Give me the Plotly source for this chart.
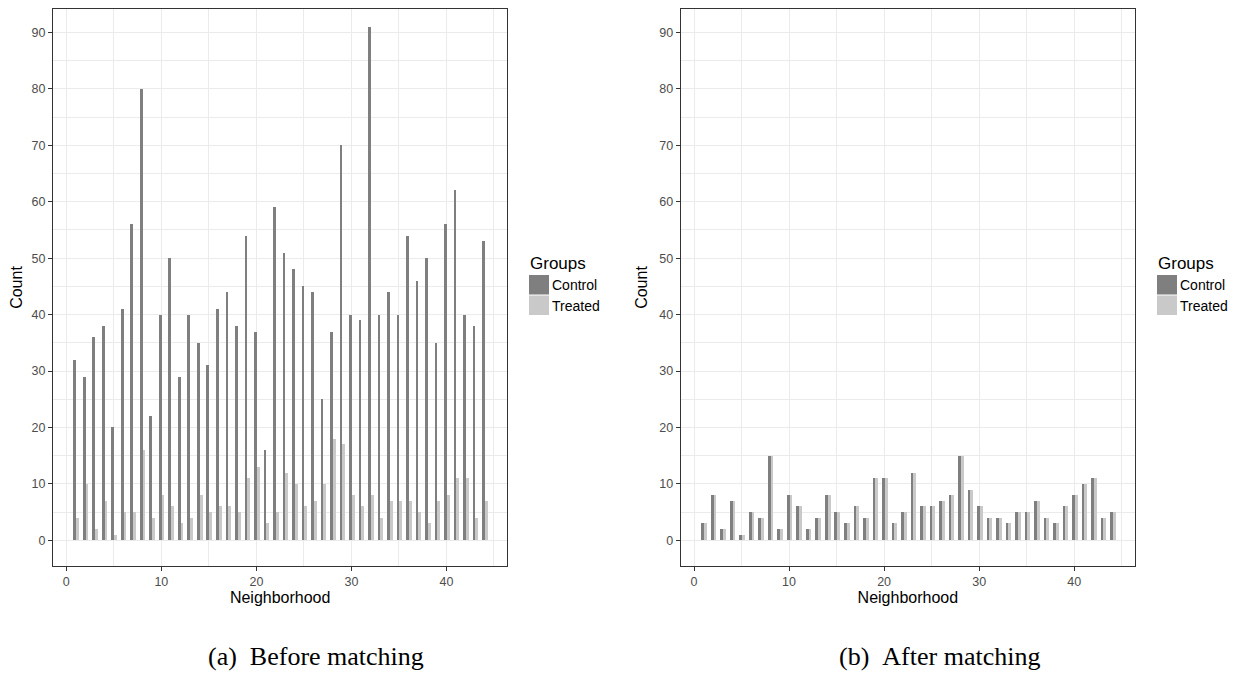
import plotly.graph_objects as go

neighborhood = list(range(1, 45))

before_control = [32, 29, 36, 38, 20, 41, 56, 80, 22, 40, 50, 29, 40, 35, 31, 41, 44, 38, 54, 37, 16, 59,
                  51, 48, 45, 44, 25, 37, 70, 40, 39, 91, 40, 44, 40, 54, 46, 50, 35, 56, 62, 40, 38, 53]
before_treated = [4, 10, 2, 7, 1, 5, 5, 16, 4, 8, 6, 3, 4, 8, 5, 6, 6, 5, 11, 13, 3, 5,
                  12, 10, 6, 7, 10, 18, 17, 8, 6, 8, 4, 7, 7, 7, 5, 3, 7, 8, 11, 11, 4, 7]
after_control = [3, 8, 2, 7, 1, 5, 4, 15, 2, 8, 6, 2, 4, 8, 5, 3, 6, 4, 11, 11, 3, 5,
                 12, 6, 6, 7, 8, 15, 9, 6, 4, 4, 3, 5, 5, 7, 4, 3, 6, 8, 10, 11, 4, 5]
after_treated = [3, 8, 2, 7, 1, 5, 4, 15, 2, 8, 6, 2, 4, 8, 5, 3, 6, 4, 11, 11, 3, 5,
                 12, 6, 6, 7, 8, 15, 9, 6, 4, 4, 3, 5, 5, 7, 4, 3, 6, 8, 10, 11, 4, 5]

y_ticks = [0, 10, 20, 30, 40, 50, 60, 70, 80, 90]
x_ticks = [0, 10, 20, 30, 40]
group_names = ["Control", "Treated"]
captions = ["(a)\u00a0\u00a0Before matching", "(b)\u00a0\u00a0After matching"]

W, H = 1236, 683
OX, OY = 8, 8  # page offset of the plot (body margin)
DARK = "#7f7f7f"
LIGHT = "#c9c9c9"
GRID = "#ebebeb"
BORDER = "#333333"
TICKTXT = "#4d4d4d"
FONT = "Liberation Sans, Arial, sans-serif"


def px_x(p):
    return min(max((p - OX) / W, 0.0), 1.0)


def px_y(p):
    return min(max((H - (p - OY)) / H, 0.0), 1.0)


fig = go.Figure()

panels = [
    ("x", "y", before_control, before_treated),
    ("x2", "y2", after_control, after_treated),
]
for xa, ya, ctrl, trt in panels:
    fig.add_trace(go.Bar(x=neighborhood, y=ctrl, xaxis=xa, yaxis=ya, name="Control",
                         marker=dict(color=DARK, line=dict(width=0)), offset=-0.25, width=0.3,
                         showlegend=False))
    fig.add_trace(go.Bar(x=neighborhood, y=trt, xaxis=xa, yaxis=ya, name="Treated",
                         marker=dict(color=LIGHT, line=dict(width=0)), offset=0.05, width=0.28,
                         showlegend=False))

# panel positions in page pixels
left_px = [(53, 507.3), (680.7, 1135)]
top_px, bot_px = 9, 566

ydom = [px_y(bot_px), px_y(top_px)]

axis_common = dict(
    showline=True, linecolor=BORDER, linewidth=1, mirror=True,
    ticks="outside", ticklen=4, tickcolor=BORDER, tickwidth=1,
    showgrid=True, gridcolor=GRID, gridwidth=1, zeroline=False,
    tickfont=dict(family=FONT, size=12.5, color=TICKTXT),
)

for i, (a, b) in enumerate(left_px):
    sx = "" if i == 0 else "2"
    fig.layout["xaxis" + sx] = dict(
        axis_common, domain=[px_x(a), px_x(b)], range=[-1.4, 46.4], anchor="y" + sx,
        tickvals=x_ticks, ticktext=[str(t) for t in x_ticks],
        minor=dict(dtick=5, tick0=5, showgrid=True, gridcolor=GRID, gridwidth=1, ticks=""),
        title=dict(text="Neighborhood", font=dict(family=FONT, size=16, color="black"), standoff=3),
    )
    fig.layout["yaxis" + sx] = dict(
        axis_common, domain=ydom, range=[-4.55, 94.15], anchor="x" + sx,
        tickvals=y_ticks, ticktext=[str(t) for t in y_ticks],
        minor=dict(dtick=5, tick0=5, showgrid=True, gridcolor=GRID, gridwidth=1, ticks=""),
        title=dict(text="Count", font=dict(family=FONT, size=16, color="black"), standoff=7),
    )

# legends (drawn as keys + labels)
legend_x = [529, 1157]
shapes = []
annotations = []
for lx in legend_x:
    annotations.append(dict(x=px_x(lx - 1), y=px_y(263), xref="paper", yref="paper",
                            text="Groups", showarrow=False, xanchor="left", yanchor="middle",
                            font=dict(family=FONT, size=17, color="black")))
    for j, (name, col) in enumerate(zip(group_names, [DARK, LIGHT])):
        y0 = 275 + j * 20.5
        shapes.append(dict(type="rect", xref="paper", yref="paper",
                           x0=px_x(lx), x1=px_x(lx + 20),
                           y0=px_y(y0 + 19.5), y1=px_y(y0),
                           fillcolor=col, line=dict(width=0)))
        annotations.append(dict(x=px_x(lx + 21), y=px_y(y0 + 10), xref="paper", yref="paper",
                                text=name, showarrow=False, xanchor="left", yanchor="middle",
                                font=dict(family=FONT, size=14, color="black")))

# captions
cap_centers = [316, 939]
for cx, cap in zip(cap_centers, captions):
    annotations.append(dict(x=px_x(cx), y=px_y(656), xref="paper", yref="paper",
                            text=cap, showarrow=False, xanchor="center", yanchor="middle",
                            font=dict(family="Liberation Serif, Times New Roman, serif", size=26,
                                      color="black")))

fig.update_layout(
    width=W, height=H,
    margin=dict(l=0, r=0, t=0, b=0),
    paper_bgcolor="white", plot_bgcolor="white",
    barmode="overlay", bargap=0,
    shapes=shapes, annotations=annotations,
    showlegend=False,
)

fig.write_html("out.html")
